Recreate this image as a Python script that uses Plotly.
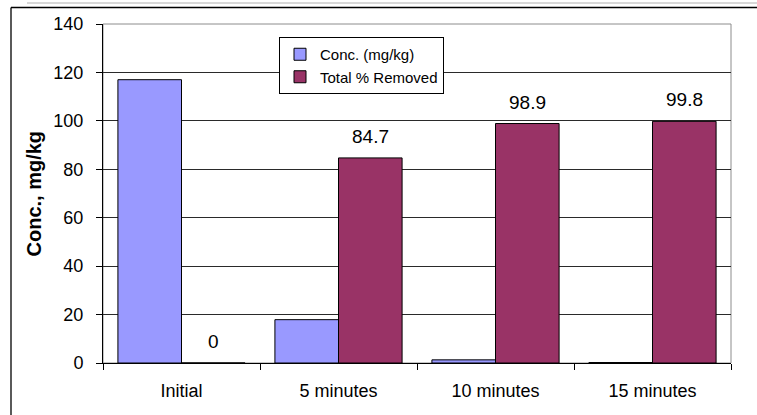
import plotly.graph_objects as go

# Sample times and measurements
categories = ["Initial", "5 minutes", "10 minutes", "15 minutes"]
conc_mg_kg = [117.0, 17.9, 1.3, 0.2]
pct_removed = [0.0, 84.7, 98.9, 99.8]
y_ticks = [0, 20, 40, 60, 80, 100, 120, 140]

W, H = 757, 415
ML, MR, MT, MB = 103, 26, 24, 52
PW, PH = W - ML - MR, H - MT - MB
BARGAP = 0.19

BLUE = "#9999FF"
PLUM = "#993366"


def px_x(p):
    return (p - ML) / PW


def px_y(p):
    return (H - MB - p) / PH


fig = go.Figure()
fig.add_trace(go.Bar(
    name="Conc. (mg/kg)", x=categories, y=conc_mg_kg,
    marker=dict(color=BLUE, line=dict(color="black", width=1)),
))
fig.add_trace(go.Bar(
    name="Total % Removed", x=categories, y=pct_removed,
    marker=dict(color=PLUM, line=dict(color="black", width=1)),
))

# value labels above the "% removed" bars
cat_w = PW / len(categories)
bar_w = cat_w * (1 - BARGAP) / 2
for c, v in zip(categories, pct_removed):
    fig.add_annotation(
        x=c, y=v, xref="x", yref="y", xshift=bar_w / 2, yshift=9,
        text=f"{v:g}", showarrow=False, yanchor="bottom",
        font=dict(family="Liberation Sans, Arial", size=19, color="black"),
    )

# y-axis title
fig.add_annotation(
    x=px_x(33), y=0.5, xref="paper", yref="paper", text="<b>Conc., mg/kg</b>",
    textangle=-90, showarrow=False, xanchor="center", yanchor="middle",
    font=dict(family="Liberation Sans, Arial", size=20, color="black"),
)

# plot-area border (top/right in grey) and the outer chart frame
fig.add_shape(type="rect", xref="paper", yref="paper", x0=0, y0=0, x1=1, y1=1,
              line=dict(color="#8c8c8c", width=1), layer="below")
fig.add_shape(type="line", xref="paper", yref="paper",
              x0=px_x(27), x1=px_x(760), y0=px_y(3), y1=px_y(3),
              line=dict(color="#b0b0b0", width=1))
fig.add_shape(type="line", xref="paper", yref="paper",
              x0=px_x(11), x1=px_x(760), y0=px_y(7.5), y1=px_y(7.5),
              line=dict(color="black", width=1.3))
fig.add_shape(type="line", xref="paper", yref="paper",
              x0=px_x(11), x1=px_x(11), y0=px_y(7.5), y1=px_y(420),
              line=dict(color="black", width=1.3))

fig.update_layout(
    width=W, height=H,
    margin=dict(l=ML, r=MR, t=MT, b=MB, autoexpand=False),
    paper_bgcolor="white", plot_bgcolor="white",
    barmode="group", bargap=BARGAP, bargroupgap=0,
    font=dict(family="Liberation Sans, Arial", size=18, color="black"),
    legend=dict(
        x=px_x(279), y=px_y(37), xanchor="left", yanchor="top",
        bgcolor="white", bordercolor="black", borderwidth=1,
        font=dict(size=15, color="black"), itemwidth=30,
        tracegroupgap=0,
    ),
    showlegend=True,
)
fig.update_xaxes(
    type="category", showline=True, linecolor="black", linewidth=1,
    ticks="outside", tickson="boundaries", ticklen=6, tickcolor="black",
    showgrid=False, tickfont=dict(size=18), ticklabelstandoff=11,
)
fig.update_yaxes(
    range=[0, 140], tickvals=y_ticks, showline=True, linecolor="black",
    linewidth=1, ticks="outside", ticklen=6, tickcolor="black",
    showgrid=True, gridcolor="#2a2a2a", gridwidth=1.2, zeroline=False,
    tickfont=dict(size=18), ticklabelstandoff=9,
)

fig.write_html("out.html")
